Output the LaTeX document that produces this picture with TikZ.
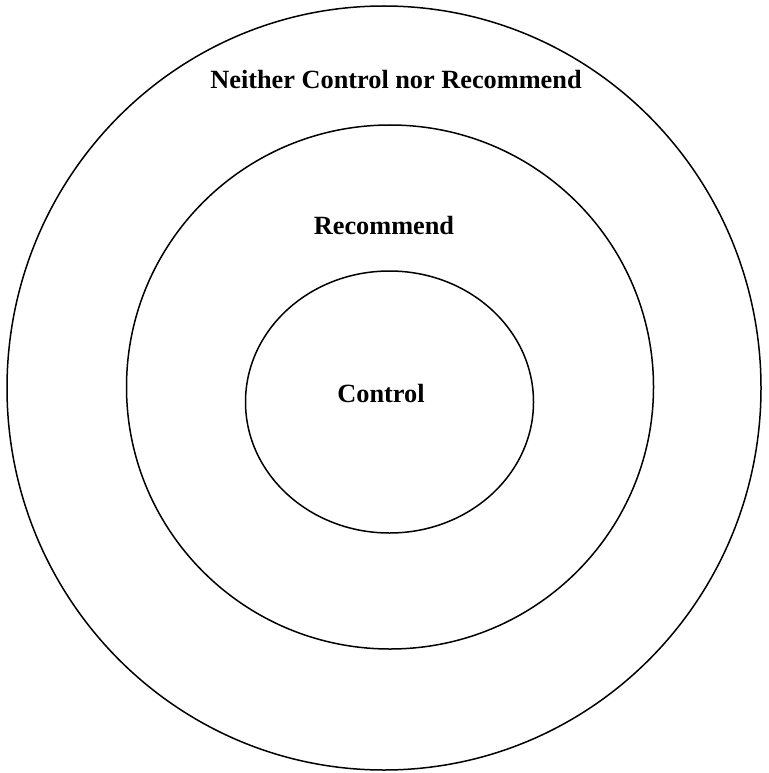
\documentclass[tikz,border=0pt]{standalone}
\usepackage{fontspec}
\setmainfont{Liberation Serif}
\begin{document}
\begin{tikzpicture}[x=1pt,y=-1pt,
  ring/.style={draw=black,line width=1.5pt},
  label/.style={font=\fontsize{26.3}{30}\selectfont\bfseries}]
\useasboundingbox (0,0) rectangle (768,773);
% concentric rings
\draw[ring] (384,388) ellipse [x radius=377, y radius=382];
\draw[ring] (390,387) ellipse [x radius=263.5, y radius=262];
\draw[ring] (389.5,402) ellipse [x radius=144, y radius=131];
% ring labels
\node[label] (outer) at (396,80) {Neither Control nor Recommend};
\node[label] (middle) at (384,226) {Recommend};
\node[label] (inner) at (381,394) {Control};
\end{tikzpicture}
\end{document}
